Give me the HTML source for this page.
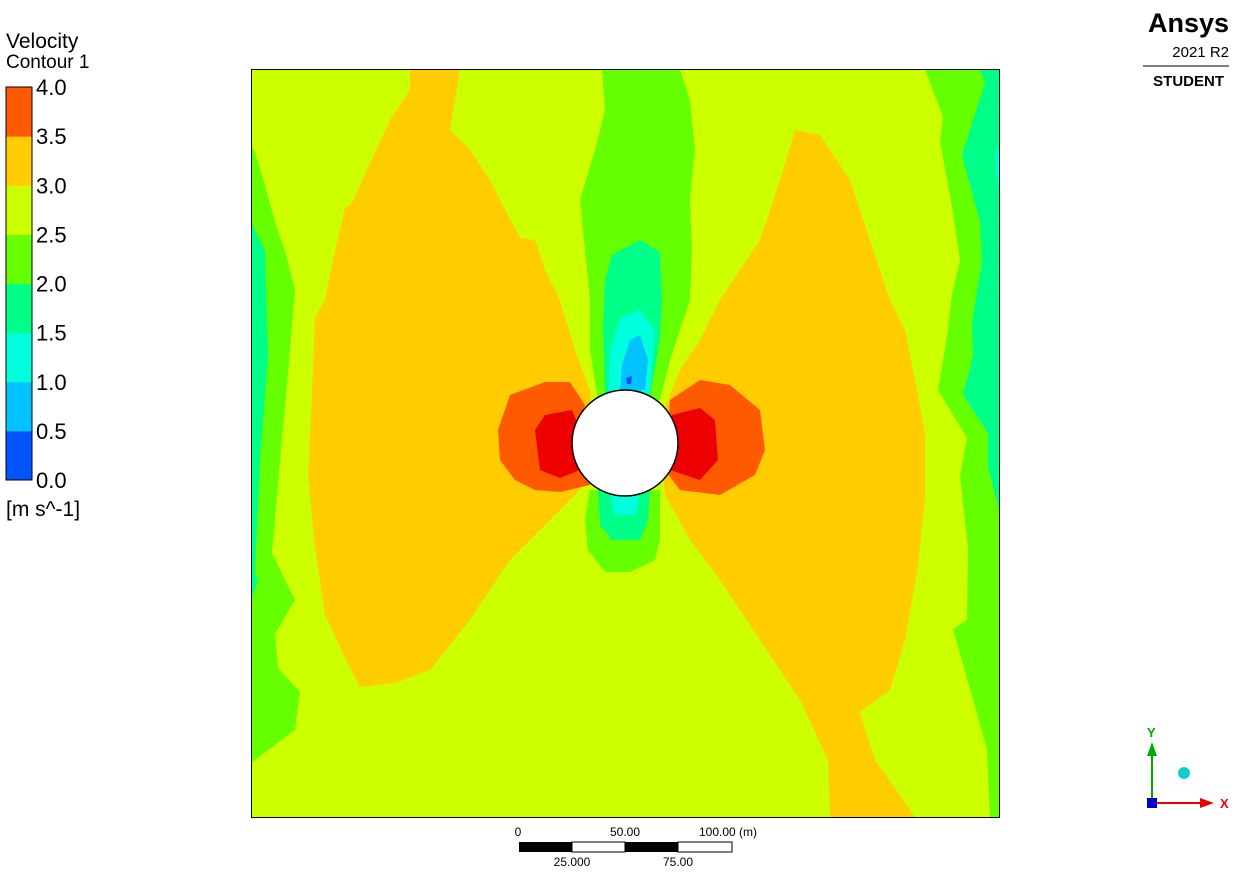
<!DOCTYPE html>
<html><head><meta charset="utf-8"><style>
body{margin:0;background:#fff;width:1251px;height:887px;overflow:hidden;font-family:"Liberation Sans",sans-serif}
svg{position:absolute;left:0;top:0}
</style></head><body>
<svg width="1251" height="887">
<g id="plot"></g>
<rect x="251.5" y="69.5" width="748" height="748" fill="none" stroke="#000"/>
<circle cx="625" cy="443" r="53" fill="#fff" stroke="#000" stroke-width="1.5"/>
<g id="legend"></g>
<text x="6" y="48" font-size="21">Velocity</text>
<text x="6" y="68" font-size="19">Contour 1</text>
<text x="6" y="516" font-size="21">[m s^-1]</text>
<g>
<text x="1229" y="32" font-size="27" font-weight="bold" text-anchor="end">Ansys</text>
<text x="1229" y="57" font-size="15" text-anchor="end">2021 R2</text>
<line x1="1143" y1="66" x2="1229" y2="66" stroke="#000"/>
<text x="1224" y="86" font-size="15" font-weight="bold" text-anchor="end">STUDENT</text>
</g>
<g font-size="12">
<rect x="519" y="842" width="53" height="10" fill="#000"/><rect x="572" y="842" width="53" height="10" fill="#fff" stroke="#000"/>
<rect x="625" y="842" width="53" height="10" fill="#000"/><rect x="678" y="842" width="54" height="10" fill="#fff" stroke="#000"/>
<text x="518" y="836" text-anchor="middle">0</text><text x="625" y="836" text-anchor="middle">50.00</text>
<text x="699" y="836">100.00  (m)</text>
<text x="572" y="866" text-anchor="middle">25.000</text><text x="678" y="866" text-anchor="middle">75.00</text>
</g>
<g>
<line x1="1152" y1="803" x2="1152" y2="748" stroke="#0a0" stroke-width="2"/><polygon points="1147,756 1157,756 1152,742" fill="#0a0"/>
<text x="1147" y="737" font-size="13" font-weight="bold" fill="#0a0">Y</text>
<line x1="1152" y1="803" x2="1205" y2="803" stroke="#e00" stroke-width="2"/><polygon points="1200,798 1200,808 1214,803" fill="#e00"/>
<text x="1220" y="808" font-size="13" font-weight="bold" fill="#e00">X</text>
<rect x="1147" y="798" width="10" height="10" fill="#00c"/>
<circle cx="1184" cy="773" r="6" fill="#1cc"/>
</g>
</svg>
<script>
const levels=["0.0","0.5","1.0","1.5","2.0","2.5","3.0","3.5","4.0"];
const bandColors=["#0055ff","#00c3ff","#00ffdd","#00ff88","#66ff00","#ccff00","#ffcc00","#ff5a00"];
const regions=[
[4,[[251,146],[255,152],[262,175],[275,222],[285,251],[295,289],[288,375],[280,462],[272,553],[295,600],[275,634],[278,668],[300,692],[295,730],[251,763]]],
[3,[[251,222],[265,251],[268,356],[260,462],[255,572],[258,581],[251,600]]],
[4,[[925,69],[999,69],[999,817],[990,817],[987,749],[953,629],[967,620],[968,548],[960,476],[967,438],[938,390],[947,337],[952,294],[960,261],[953,213],[940,141],[943,117]]],
[3,[[980,69],[999,69],[999,510],[988,467],[988,433],[963,395],[973,356],[972,323],[982,261],[980,222],[962,155],[985,83]]],
[2,[[995,150],[999,150],[999,185],[996,175]]],
[6,[[410,69],[460,69],[455,100],[450,130],[470,150],[490,180],[500,200],[520,238],[535,240],[545,270],[560,300],[575,350],[590,390],[595,470],[580,490],[560,510],[510,560],[470,620],[430,670],[395,683],[360,687],[345,658],[325,615],[315,548],[308,476],[312,395],[315,318],[325,299],[335,251],[345,208],[352,203],[365,174],[390,120],[410,90]]],
[6,[[795,130],[820,135],[850,180],[870,240],[890,300],[905,330],[915,380],[925,433],[925,500],[917,572],[905,640],[890,690],[860,712],[875,760],[915,817],[830,817],[828,760],[800,700],[760,640],[720,580],[690,540],[665,495],[660,420],[680,370],[700,340],[720,300],[740,270],[760,240],[780,180]]],
[4,[[602,69],[680,69],[690,100],[695,150],[690,200],[692,250],[690,300],[680,330],[670,360],[660,400],[598,400],[590,350],[590,300],[585,250],[580,200],[595,150],[605,110]]],
[3,[[612,255],[640,240],[660,252],[662,300],[660,340],[650,395],[605,395],[603,330],[605,280]]],
[2,[[620,318],[640,310],[655,330],[650,395],[608,395],[610,350]]],
[1,[[630,340],[640,335],[648,360],[645,390],[620,392],[622,365]]],
[0,[[626,378],[632,376],[631,384],[627,384]]],
[4,[[590,490],[660,490],[660,540],[655,560],[630,572],[605,572],[588,550],[585,520]]],
[3,[[598,490],[650,490],[648,520],[640,540],[612,540],[600,525]]],
[2,[[610,490],[640,490],[636,515],[614,515]]],
[7,[[498,430],[500,460],[515,480],[535,490],[560,492],[590,485],[575,440],[585,405],[570,382],[545,382],[510,395]]],
[8,[[535,430],[545,415],[572,410],[580,430],[580,470],[560,478],[540,470]]],
[7,[[670,400],[700,380],[730,385],[760,410],[765,450],[755,475],[720,495],[680,490],[665,470]]],
[8,[[672,415],[700,408],[715,420],[718,460],[700,480],[670,470]]]
];
(function(){
const NS="http://www.w3.org/2000/svg";
const colorOf=i=>i===8?"#ee0000":bandColors[i];
const plot=document.getElementById('plot');
const bg=document.createElementNS(NS,'rect');
bg.setAttribute('x',251);bg.setAttribute('y',69);bg.setAttribute('width',748);bg.setAttribute('height',748);bg.setAttribute('fill','#ccff00');


plot.appendChild(bg);
regions.forEach((r)=>{
  const p=document.createElementNS(NS,'polygon');
  p.setAttribute('points',r[1].map(q=>q.join(',')).join(' '));
  p.setAttribute('fill',colorOf(r[0]));
  
  
  plot.appendChild(p);
});
const lg=document.getElementById('legend');
const y0=87,y1=480,n=bandColors.length,h=(y1-y0)/n;
bandColors.forEach((c,i)=>{
  const r=document.createElementNS(NS,'rect');
  r.setAttribute('x',6);r.setAttribute('y',y1-(i+1)*h);r.setAttribute('width',26);r.setAttribute('height',h+0.5);r.setAttribute('fill',c);
  
  
  lg.appendChild(r);
});
levels.forEach((l,i)=>{
  const t=document.createElementNS(NS,'text');
  t.setAttribute('x',36);t.setAttribute('y',y1-i*h+8);t.setAttribute('font-size',22);t.textContent=l;
  
  
  lg.appendChild(t);
});
const fr=document.createElementNS(NS,'rect');
fr.setAttribute('x',6);fr.setAttribute('y',y0);fr.setAttribute('width',26);fr.setAttribute('height',y1-y0);fr.setAttribute('fill','none');fr.setAttribute('stroke','#000');


lg.appendChild(fr);
})();
</script>
</body></html>
